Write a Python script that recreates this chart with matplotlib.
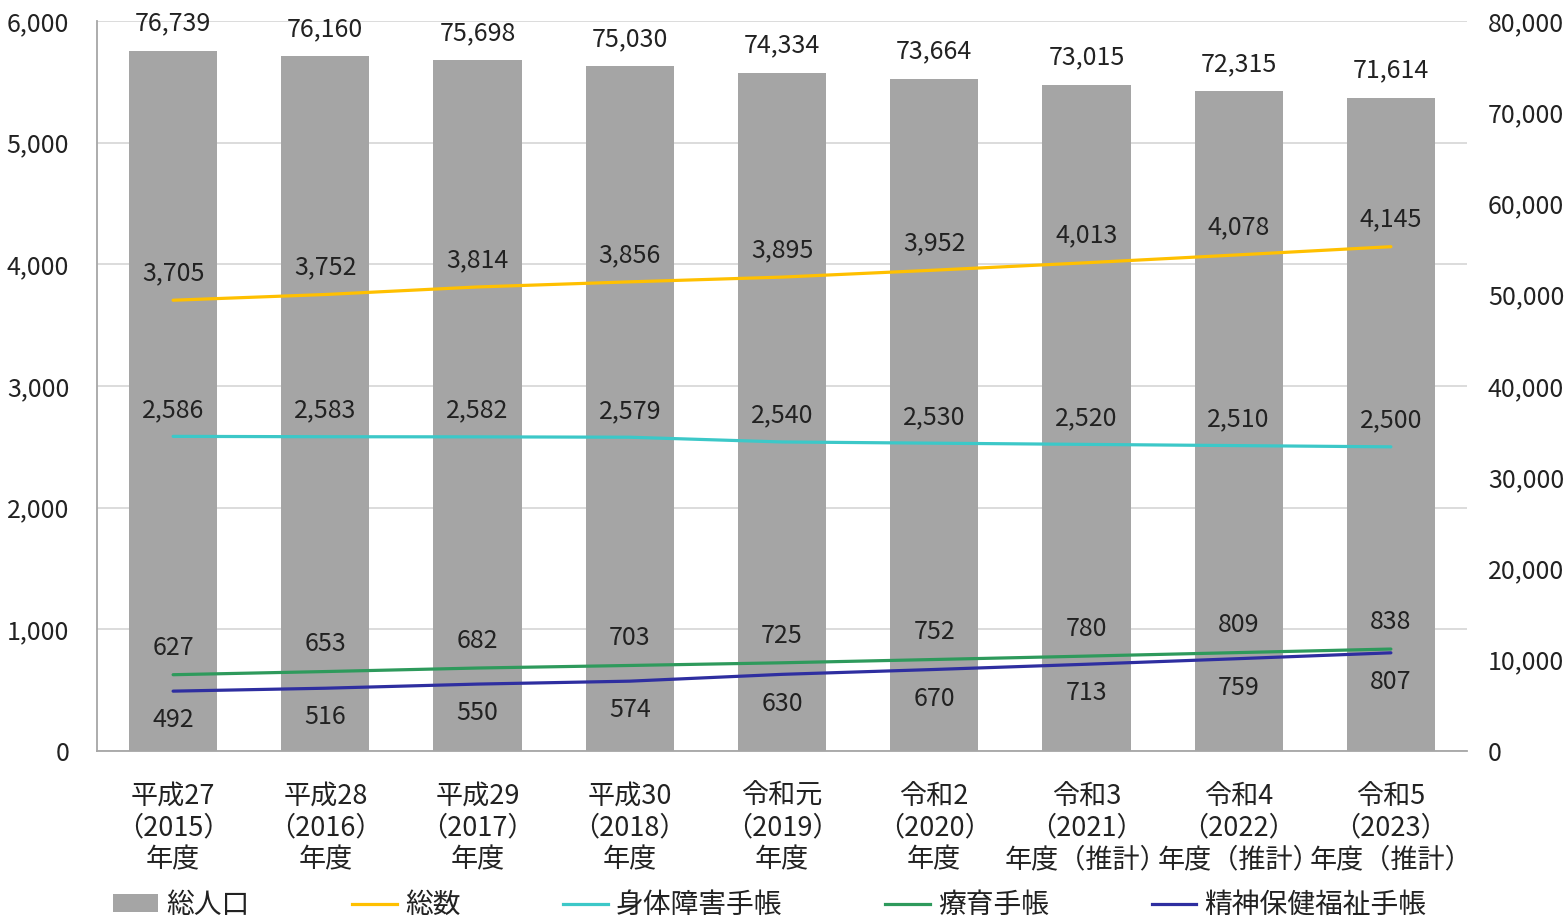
import matplotlib
matplotlib.use("Agg")
import matplotlib.pyplot as plt
from matplotlib.patches import Patch
from matplotlib.lines import Line2D
from matplotlib.ticker import FuncFormatter, MultipleLocator

plt.rcParams['font.family'] = ['Noto Sans CJK JP', 'DejaVu Sans']

categories = [
    "平成27\n（2015）\n年度", "平成28\n（2016）\n年度", "平成29\n（2017）\n年度",
    "平成30\n（2018）\n年度", "令和元\n（2019）\n年度", "令和2\n（2020）\n年度",
    "令和3\n（2021）\n年度（推計）", "令和4\n（2022）\n年度（推計）", "令和5\n（2023）\n年度（推計）",
]
population = [76739, 76160, 75698, 75030, 74334, 73664, 73015, 72315, 71614]
total = [3705, 3752, 3814, 3856, 3895, 3952, 4013, 4078, 4145]
physical = [2586, 2583, 2582, 2579, 2540, 2530, 2520, 2510, 2500]
intellectual = [627, 653, 682, 703, 725, 752, 780, 809, 838]
mental = [492, 516, 550, 574, 630, 670, 713, 759, 807]

C_BAR = "#A5A5A5"
C_TOTAL = "#FFC000"
C_PHYS = "#3CC8C8"
C_INT = "#2E9A5C"
C_MENT = "#2E2EA0"
FS_NUM = 18
FS_TXT = 19.5
TXT = '#222222'
LW = 2.3

fig = plt.figure(figsize=(15.66, 9.22), dpi=100)
W, H = 1566, 922
rect = [97 / W, (H - 751) / H, 1370 / W, 730 / H]

fmt = FuncFormatter(lambda v, p: f"{int(v):,}")
x = list(range(len(categories)))

# base axes: left scale, gridlines, category labels
ax = fig.add_axes(rect)
ax.set_xlim(-0.5, len(categories) - 0.5)
ax.set_ylim(0, 6000)
ax.yaxis.set_major_locator(MultipleLocator(1000))
ax.yaxis.set_major_formatter(fmt)
ax.grid(axis='y', color='#D9D9D9', linewidth=1.3)
ax.set_axisbelow(True)
for s in ['top', 'right']:
    ax.spines[s].set_visible(False)
for s in ['left', 'bottom']:
    ax.spines[s].set_color('#A6A6A6')
    ax.spines[s].set_linewidth(1.3)
ax.set_xticks(x)
ax.set_xticklabels(categories, fontsize=FS_TXT, linespacing=1.22, color=TXT)
ax.tick_params(axis='x', length=0, pad=23)
ax.tick_params(axis='y', length=0, pad=20, labelsize=FS_NUM, labelcolor=TXT)

# bars on the right scale
axb = ax.twinx()
axb.set_ylim(0, 80000)
axb.yaxis.set_major_locator(MultipleLocator(10000))
axb.yaxis.set_major_formatter(fmt)
axb.tick_params(axis='y', length=0, pad=15, labelsize=FS_NUM, labelcolor=TXT)
for s in axb.spines.values():
    s.set_visible(False)
axb.bar(x, population, width=0.58, color=C_BAR, zorder=2)
for xi, v in zip(x, population):
    axb.annotate(f"{v:,}", (xi, v), xytext=(0, 19.5), textcoords='offset points',
                 ha='center', va='center', fontsize=FS_NUM, color=TXT)

# lines on the left scale, drawn above the bars
axl = ax.twinx()
axl.set_ylim(0, 6000)
axl.set_yticks([])
for s in axl.spines.values():
    s.set_visible(False)

series = [
    (total, C_TOTAL, 19.5),
    (physical, C_PHYS, 19),
    (intellectual, C_INT, 19.5),
    (mental, C_MENT, -21),
]
for vals, col, off in series:
    axl.plot(x, vals, color=col, linewidth=LW, solid_capstyle='round')
    for xi, v in zip(x, vals):
        axl.annotate(f"{v:,}", (xi, v), xytext=(0, off), textcoords='offset points',
                     ha='center', va='center', fontsize=FS_NUM, color=TXT)

handles = [
    Patch(facecolor=C_BAR, edgecolor='none'),
    Line2D([], [], color=C_TOTAL, linewidth=LW),
    Line2D([], [], color=C_PHYS, linewidth=LW),
    Line2D([], [], color=C_INT, linewidth=LW),
    Line2D([], [], color=C_MENT, linewidth=LW),
]
labels = ["総人口", "総数", "身体障害手帳", "療育手帳", "精神保健福祉手帳"]
fig.legend(handles, labels, loc='center', bbox_to_anchor=(770 / W, 17 / H),
           ncol=5, frameon=False, fontsize=20, handlelength=1.6,
           handleheight=0.6, handletextpad=0.3, columnspacing=3.7,
           labelcolor=TXT, borderpad=0.2)

fig.savefig("out.png", dpi=100)
